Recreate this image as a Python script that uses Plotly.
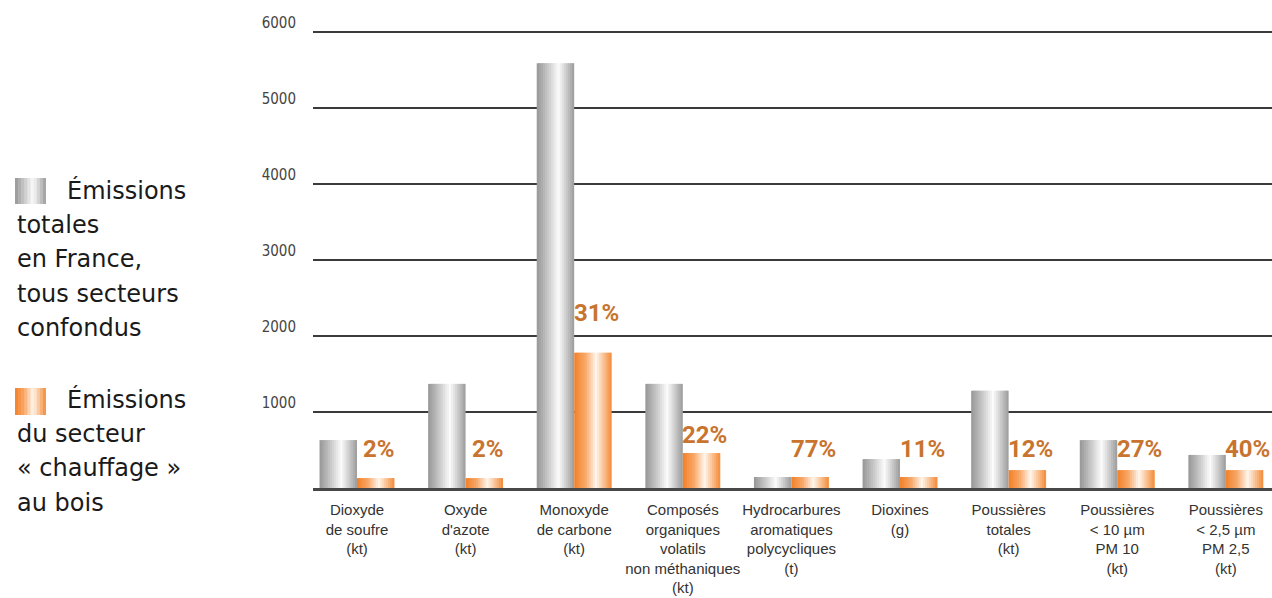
import plotly.graph_objects as go

categories = [
    "Dioxyde<br>de soufre<br>(kt)",
    "Oxyde<br>d'azote<br>(kt)",
    "Monoxyde<br>de carbone<br>(kt)",
    "Composés<br>organiques<br>volatils<br>non méthaniques<br>(kt)",
    "Hydrocarbures<br>aromatiques<br>polycycliques<br>(t)",
    "Dioxines<br>(g)",
    "Poussières<br>totales<br>(kt)",
    "Poussières<br>< 10 µm<br>PM 10<br>(kt)",
    "Poussières<br>< 2,5 µm<br>PM 2,5<br>(kt)",
]
total_values = [630, 1370, 5590, 1370, 145, 380, 1280, 630, 435]
wood_values = [130, 130, 1780, 460, 145, 145, 235, 235, 235]
pct_labels = ["2%", "2%", "31%", "22%", "77%", "11%", "12%", "27%", "40%"]
y_tick_values = [1000, 2000, 3000, 4000, 5000, 6000]
y_tick_labels = ["1000", "2000", "3000", "4000", "5000", "6000"]

legend_total = ["Émissions", "totales", "en France,", "tous secteurs", "confondus"]
legend_wood = ["Émissions", "du secteur", "« chauffage »", "au bois"]

# ---- layout constants (pixels) ----
W, H = 1272, 598
L, R, T, B = 313, 0, 29, 110
PW, PH = W - L - R, H - T - B
YMAX = 6040

# label placement (data units)
pct_label_y = [510, 510, 2300, 700, 510, 510, 510, 510, 510]

BAR_W = 0.345
N = 18


def lerp(c1, c2, t):
    return tuple(round(a + (b - a) * t) for a, b in zip(c1, c2))


def grad(stops, t):
    for (t0, c0), (t1, c1) in zip(stops, stops[1:]):
        if t0 <= t <= t1:
            return lerp(c0, c1, (t - t0) / (t1 - t0) if t1 > t0 else 0)
    return stops[-1][1]


gray_stops = [(0, (150, 150, 150)), (0.3, (200, 200, 200)), (0.58, (252, 252, 252)), (1.0, (155, 155, 155))]
orange_stops = [(0, (243, 128, 40)), (0.3, (248, 168, 105)), (0.58, (255, 246, 236)), (1.0, (244, 138, 55))]


def rgb(c):
    return "rgb(%d,%d,%d)" % c


fig = go.Figure()

for values, stops, base in [(total_values, gray_stops, -BAR_W), (wood_values, orange_stops, 0.0)]:
    step = BAR_W / N
    for k in range(N):
        t = (k + 0.5) / N
        wdt = step * 1.7 if k < N - 1 else step
        fig.add_trace(go.Bar(
            x=categories, y=values,
            width=wdt,
            offset=base + k * step,
            marker=dict(color=rgb(grad(stops, t)), line=dict(width=0)),
            showlegend=False, hoverinfo="skip",
        ))

annotations = []
# percentage labels
for cat, lab, yv in zip(categories, pct_labels, pct_label_y):
    annotations.append(dict(
        x=cat, y=yv, xref="x", yref="y", text=lab, showarrow=False,
        xanchor="center", yanchor="middle", xshift=22,
        font=dict(family="Roboto, sans-serif", size=24, color="#c8742f", weight="bold"),
    ))


def px_x(px):
    return (px - L) / PW


def px_y(py):
    return (H - B - py) / PH


legend_font = dict(family="DejaVu Sans, sans-serif", size=24, color="#1a1a1a")
for i, line in enumerate(legend_total):
    annotations.append(dict(
        x=px_x(65 if i == 0 else 15), y=px_y(190 + i * 34.5), xref="paper", yref="paper",
        text=line, showarrow=False, xanchor="left", yanchor="middle", font=legend_font,
    ))
for i, line in enumerate(legend_wood):
    annotations.append(dict(
        x=px_x(65 if i == 0 else 15), y=px_y(399 + i * 34.5), xref="paper", yref="paper",
        text=line, showarrow=False, xanchor="left", yanchor="middle", font=legend_font,
    ))

shapes = []
M = 10
for (y0, y1), stops in [((178, 204), gray_stops), ((388, 415), orange_stops)]:
    x0, x1 = 15, 46
    for k in range(M):
        t = (k + 0.5) / M
        sx0 = x0 + (x1 - x0) * k / M
        sx1 = x0 + (x1 - x0) * (k + 1) / M + (0.6 if k < M - 1 else 0)
        shapes.append(dict(
            type="rect", xref="paper", yref="paper",
            x0=px_x(sx0), x1=px_x(sx1), y0=px_y(y1), y1=px_y(y0),
            fillcolor=rgb(grad(stops, t)), line=dict(width=0), layer="above",
        ))

fig.update_layout(
    width=W, height=H,
    margin=dict(l=L, r=R, t=T, b=B, pad=0, autoexpand=False),
    paper_bgcolor="white", plot_bgcolor="white",
    barmode="overlay",
    showlegend=False,
    annotations=annotations,
    shapes=shapes,
    xaxis=dict(
        type="category", range=[-0.405, 8.425],
        showgrid=False, zeroline=False, automargin=False,
        showline=True, linecolor="#484848", linewidth=3,
        ticks="", tickangle=0, ticklabelstandoff=6,
        tickfont=dict(family="Liberation Sans, Arial, sans-serif", size=15, color="#333333"),
    ),
    yaxis=dict(
        range=[0, YMAX], automargin=False,
        tickvals=y_tick_values, ticktext=y_tick_labels,
        showgrid=True, gridcolor="#3a3a3a", gridwidth=2,
        zeroline=False, showline=False, ticks="",
        ticklabelstandoff=16, ticklabelshift=-9,
        tickfont=dict(family="DejaVu Sans Condensed, sans-serif", size=15, color="#444444"),
    ),
)

fig.write_html("out.html")
